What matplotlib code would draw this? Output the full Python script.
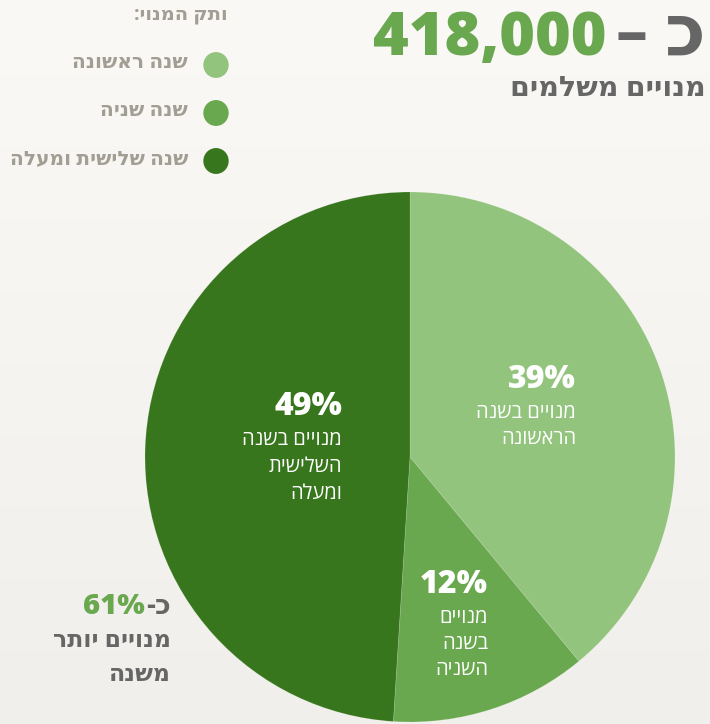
import numpy as np
import matplotlib
matplotlib.use("Agg")
import matplotlib.pyplot as plt

# data
segments = ["שנה ראשונה", "שנה שניה", "שנה שלישית ומעלה"]
shares = [39, 12, 49]
colors = ["#93C47D", "#6AA84F", "#38761D"]
slice_lines = [
    ["מנויים בשנה", "הראשונה"],
    ["מנויים", "בשנה", "השניה"],
    ["מנויים בשנה", "השלישית", "ומעלה"],
]
total_subs = "418,000"
multi_year = "61%"

FONT = ["Open Sans", "DejaVu Sans"]
GREEN = "#6AA84F"
GREY = "#666666"
BEIGE = "#A39E93"

W, H = 710, 724


def heb(s):
    # matplotlib has no bidi support, so reverse Hebrew for display
    return s[::-1]


def fx(x):
    return x / W


def fy(y):
    return 1 - y / H


fig = plt.figure(figsize=(W / 100, H / 100), dpi=100)

# background gradient
bg = fig.add_axes([0, 0, 1, 1])
top = np.array([250, 249, 246]) / 255
bot = np.array([241, 239, 235]) / 255
t = np.linspace(0, 1, 256)[:, None, None]
grad = top[None, None, :] * (1 - t) + bot[None, None, :] * t
grad = np.repeat(grad, 2, axis=1)
bg.imshow(grad, aspect="auto", extent=[0, 1, 0, 1])
bg.set_axis_off()

# pie: center (410, 457), radius 265 px
cx, cy, r = 410, 457, 265
ax = fig.add_axes([fx(cx - r), fy(cy + r), 2 * r / W, 2 * r / H])
ax.pie(shares, colors=colors, startangle=90, counterclock=False,
       wedgeprops=dict(linewidth=0.5, edgecolor="#ffffff30"))
ax.set_xlim(-1, 1)
ax.set_ylim(-1, 1)
ax.set_axis_off()

# slice labels (right edge x, y of percent)
label_pos = [(576, 380), (488, 585), (342, 407)]
line_gap = [26, 26, 27]
for i, (x, y) in enumerate(label_pos):
    fig.text(fx(x), fy(y), f"{shares[i]}%", ha="right", va="center",
             fontsize=23, fontweight=800, color="white", family=FONT)
    for j, line in enumerate(slice_lines[i]):
        fig.text(fx(x), fy(y + 33 + j * line_gap[i]), heb(line), ha="right",
                 va="center", fontsize=14.5, color="white", family=FONT)

# headline
fig.text(fx(706), fy(55), "כ", ha="right", va="baseline",
         fontsize=52, fontweight="bold", color=GREY, family=FONT)
fig.text(fx(631), fy(37), "–", ha="center", va="center",
         fontsize=46, fontweight="bold", color=GREY, family=FONT)
fig.text(fx(607), fy(55), total_subs, ha="right", va="baseline",
         fontsize=44, fontweight=800, color=GREEN, family=FONT)
fig.text(fx(706), fy(88), heb("מנויים משלמים"), ha="right", va="center",
         fontsize=20.5, fontweight="bold", color=GREY, family=FONT)

# legend
fig.text(fx(228), fy(15), heb("ותק המנוי:"), ha="right", va="center",
         fontsize=14, fontweight="bold", color=BEIGE, family=FONT)
leg_y = [65, 113, 161]
for name, c, y in zip(segments, colors, leg_y):
    fig.patches.append(plt.Circle((fx(216), fy(y)), 12 / W, color=c,
                                  transform=fig.transFigure, figure=fig))
    fig.text(fx(188), fy(y - 2), heb(name), ha="right", va="center",
             fontsize=14.5, fontweight="bold", color=BEIGE, family=FONT)

# bottom-left note
k2 = fig.text(fx(171), fy(607), heb("כ-"), ha="right", va="center",
              fontsize=20, fontweight="bold", color=GREY, family=FONT)
ax.annotate(multi_year, xy=(-0.05, 0.5), xycoords=k2, ha="right", va="center",
            fontsize=21, fontweight=800, color=GREEN, family=FONT,
            annotation_clip=False)
fig.text(fx(171), fy(641), heb("מנויים יותר"), ha="right", va="center",
         fontsize=17, fontweight="bold", color=GREY, family=FONT)
fig.text(fx(171), fy(675), heb("משנה"), ha="right", va="center",
         fontsize=17, fontweight="bold", color=GREY, family=FONT)

fig.savefig("out.png", dpi=100)
